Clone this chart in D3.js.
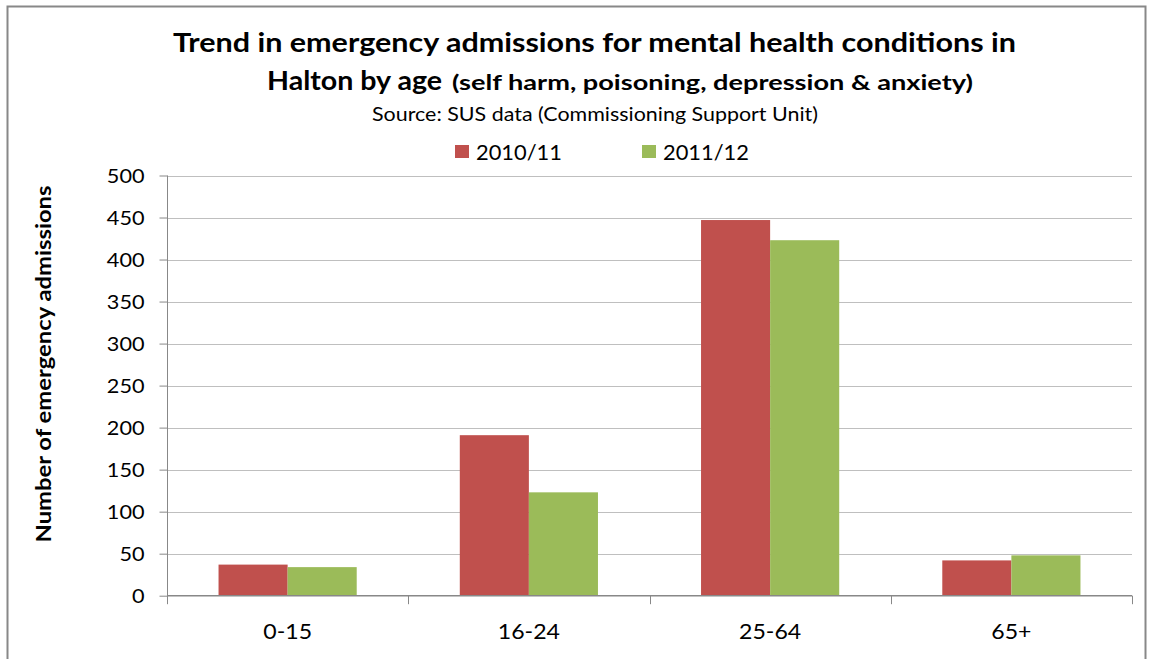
<!DOCTYPE html>
<html>
<head>
<meta charset="utf-8">
<script src="https://cdn.jsdelivr.net/npm/d3@7"></script>
<style>
  html, body { margin: 0; padding: 0; background: #fff; }
  svg text { font-family: Lato, "Open Sans", "DejaVu Sans", sans-serif; fill: #000; }
</style>
</head>
<body>
<svg id="chart" width="1151" height="659"></svg>
<script>
// Age bands and admissions per financial year
const categories = ["0-15", "16-24", "25-64", "65+"];
const seriesNames = ["2010/11", "2011/12"];
const values2010 = [37, 191, 447, 42];
const values2011 = [34, 123, 423, 48];
const yTicks = [0, 50, 100, 150, 200, 250, 300, 350, 400, 450, 500];
const colors = ["#C0504D", "#9BBB59"];

const svg = d3.select("#chart");

// widen text horizontally by a factor, keeping its font size
function stretch(sel, k) {
  sel.each(function () {
    const w = this.getComputedTextLength();
    d3.select(this).attr("textLength", w * k).attr("lengthAdjust", "spacingAndGlyphs");
  });
}
// set text to an exact width
function fit(sel, w) {
  sel.attr("textLength", w).attr("lengthAdjust", "spacingAndGlyphs");
}

// outer chart frame
svg.append("rect")
  .attr("x", 7.5).attr("y", 6.5)
  .attr("width", 1138).attr("height", 670)
  .attr("fill", "#fff").attr("stroke", "#888").attr("stroke-width", 2);

const plot = { left: 167, right: 1132, top: 175.5, bottom: 595.7 };

const x0 = d3.scaleBand().domain(categories)
  .range([plot.left, plot.right]).paddingInner(0).paddingOuter(0);
const x1 = d3.scaleBand().domain(seriesNames)
  .range([0, x0.bandwidth()]).paddingInner(0).paddingOuter(0.746);
const y = d3.scaleLinear().domain([0, 500]).range([plot.bottom, plot.top]);

// horizontal gridlines
svg.append("g").selectAll("line").data(yTicks.filter(d => d > 0)).join("line")
  .attr("x1", plot.left).attr("x2", plot.right)
  .attr("y1", d => Math.round(y(d)) + 0.5).attr("y2", d => Math.round(y(d)) + 0.5)
  .attr("stroke", "#bfbfbf").attr("stroke-width", 1.2);

// bars
const rows = categories.map((c, i) => ({ cat: c, vals: [values2010[i], values2011[i]] }));
const groups = svg.append("g").selectAll("g").data(rows).join("g")
  .attr("transform", d => `translate(${x0(d.cat)},0)`);
groups.selectAll("rect").data(d => d.vals.map((v, j) => ({ v, s: seriesNames[j], j }))).join("rect")
  .attr("x", d => x1(d.s))
  .attr("width", x1.bandwidth())
  .attr("y", d => y(d.v))
  .attr("height", d => y(0) - y(d.v))
  .attr("fill", d => colors[d.j]);

// y axis
const yAxis = d3.axisLeft(y).tickValues(yTicks).tickSize(8).tickPadding(15).tickSizeOuter(0);
const gy = svg.append("g").attr("transform", `translate(${plot.left + 0.5},0)`).call(yAxis);
gy.select(".domain").remove();
gy.append("line").attr("x1", 0).attr("x2", 0).attr("y1", plot.top).attr("y2", plot.bottom + 8.5)
  .attr("stroke", "#888");
gy.selectAll(".tick line").attr("stroke", "#888");
gy.selectAll(".tick text").attr("font-size", 19).attr("fill", "#000")
  .attr("dy", "0.36em")
  .style("font-family", "Lato, 'Open Sans', sans-serif");
stretch(gy.selectAll(".tick text"), 1.14);

// x axis
const xAxis = d3.axisBottom(x0).tickSize(0).tickPadding(28);
const gx = svg.append("g").attr("transform", `translate(0,${plot.bottom})`).call(xAxis);
gx.select(".domain").remove();
gx.append("line").attr("x1", plot.left).attr("x2", plot.right).attr("y1", 0).attr("y2", 0)
  .attr("stroke", "#888").attr("stroke-width", 1.5);
gx.selectAll(".tick text").attr("font-size", 21).attr("fill", "#000")
  .style("font-family", "Lato, 'Open Sans', sans-serif");
stretch(gx.selectAll(".tick text"), 1.1);
const boundaries = categories.map(c => x0(c) + x0.bandwidth());
gx.append("g").selectAll("line").data(boundaries).join("line")
  .attr("x1", d => Math.round(d) + 0.5).attr("x2", d => Math.round(d) + 0.5)
  .attr("y1", 0).attr("y2", 8.5).attr("stroke", "#888");

// y axis title
svg.append("text")
  .attr("transform", "translate(51,364) rotate(-90)")
  .attr("text-anchor", "middle")
  .attr("font-size", 20).attr("font-weight", "bold")
  .text("Number of emergency admissions")
  .call(fit, 357);

// titles
svg.append("text").attr("x", 173).attr("y", 52)
  .attr("font-size", 27).attr("font-weight", "bold")
  .text("Trend in emergency admissions for mental health conditions in")
  .call(fit, 843);
svg.append("text").attr("x", 267).attr("y", 90)
  .attr("font-size", 27).attr("font-weight", "bold")
  .text("Halton by age")
  .call(fit, 175);
svg.append("text").attr("x", 452).attr("y", 90)
  .attr("font-size", 20).attr("font-weight", "bold")
  .text("(self harm, poisoning, depression & anxiety)")
  .call(fit, 521);
svg.append("text").attr("x", 372).attr("y", 121)
  .attr("font-size", 19)
  .text("Source: SUS data (Commissioning Support Unit)")
  .call(fit, 446);

// legend
const legendX = [455, 642];
const legend = svg.append("g").selectAll("g").data(seriesNames).join("g")
  .attr("transform", (d, i) => `translate(${legendX[i]},0)`);
legend.append("rect").attr("x", 0).attr("y", 145).attr("width", 14).attr("height", 13)
  .attr("fill", (d, i) => colors[i]);
legend.append("text").attr("x", 21).attr("y", 160).attr("font-size", 21).text(d => d)
  .call(fit, 86);
</script>
</body>
</html>
